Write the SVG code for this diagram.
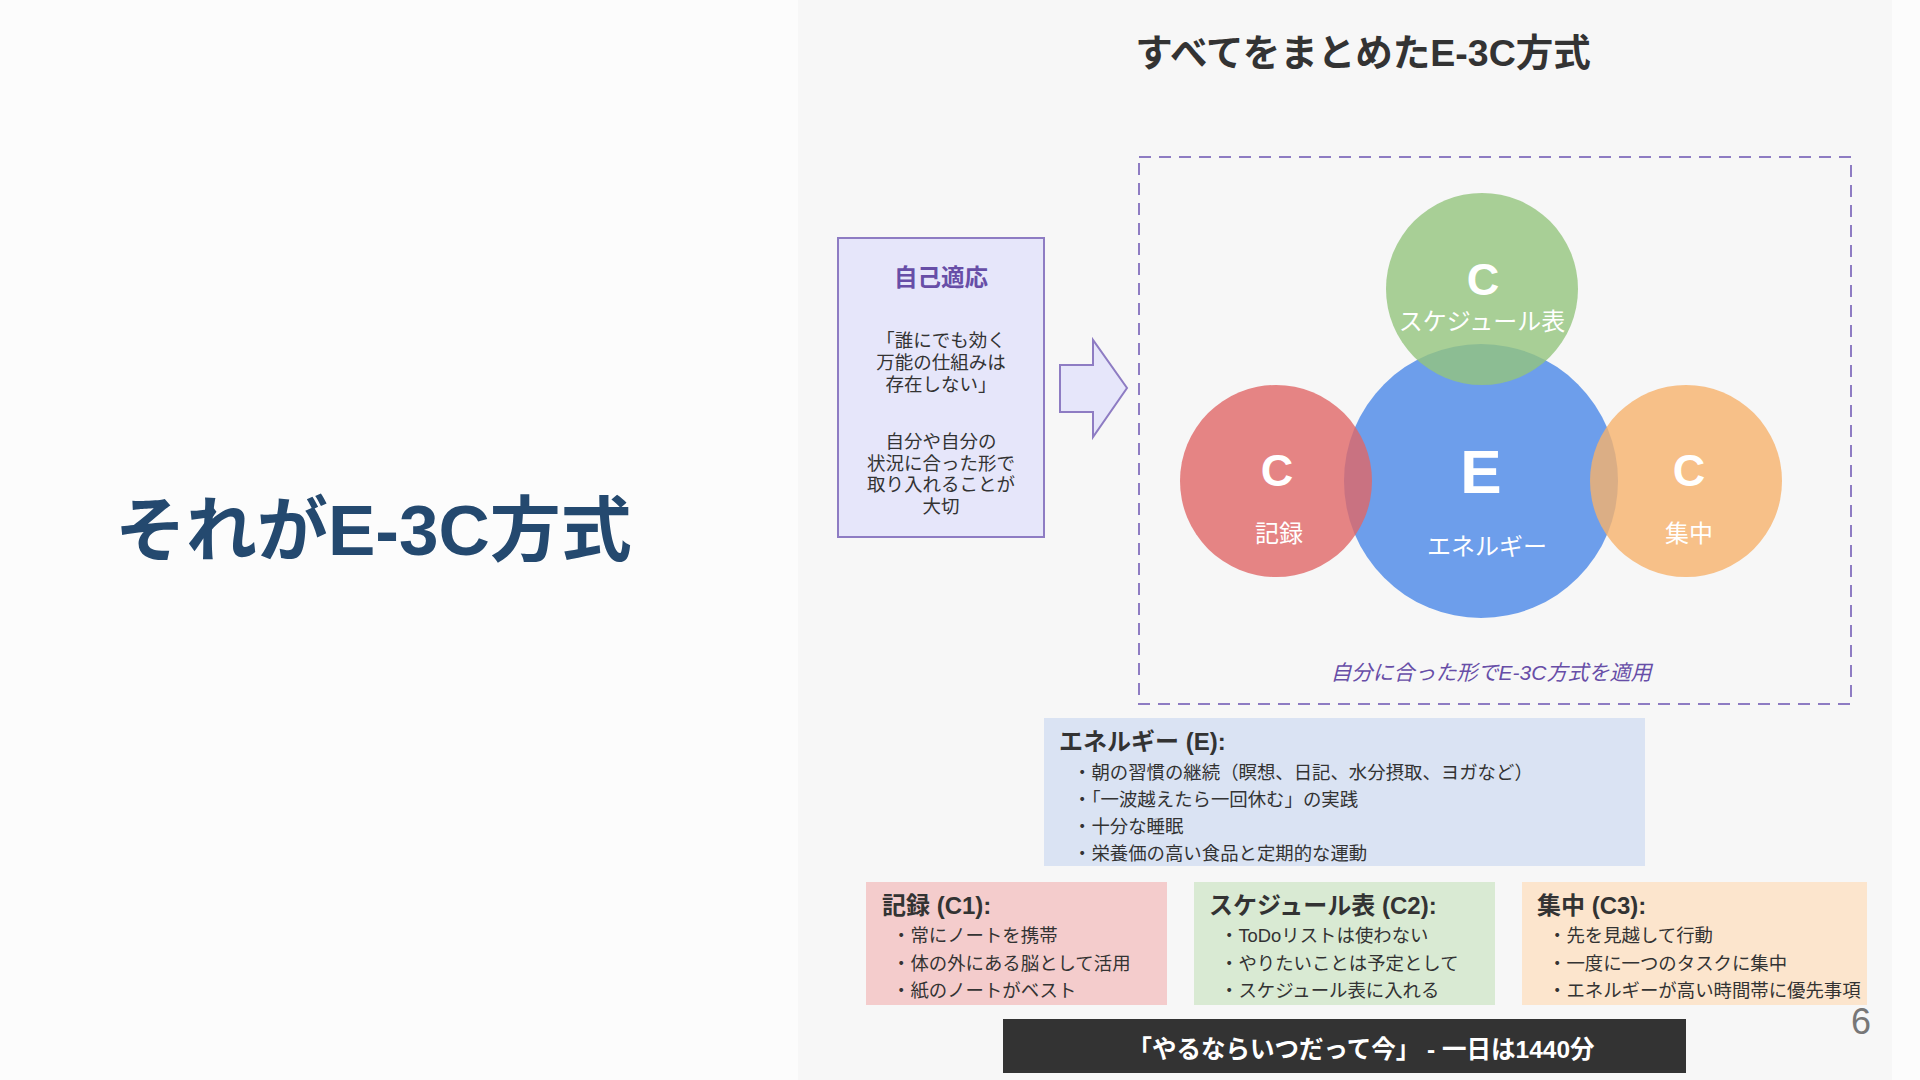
<svg xmlns="http://www.w3.org/2000/svg" width="1920" height="1080" viewBox="0 0 1920 1080">
<defs>
<style>
text{font-family:"Liberation Sans","Noto Sans CJK JP",sans-serif;}
.b{font-weight:bold;}
.dark{fill:#333333;}
.w{fill:#ffffff;}
.mid{text-anchor:middle;}
.cbig{font-size:45px;font-weight:bold;fill:#ffffff;text-anchor:middle;}
.clab{font-size:24px;fill:#ffffff;text-anchor:middle;}
.small{font-size:18.5px;fill:#333333;text-anchor:middle;}
.bt{font-size:24px;font-weight:bold;fill:#333333;}
.bl{font-size:18.4px;fill:#333333;}
</style>
</defs>
<rect x="0" y="0" width="1920" height="1080" fill="#fcfcfc"/>
<rect x="798" y="0" width="1094" height="1080" fill="#f7f7f7"/>

<g id="left-title">
<text x="115" y="555" font-size="71" class="b" fill="#24496f">それがE-3C方式</text>
</g>

<g id="title">
<text x="1363" y="66" font-size="37.5" class="b dark mid">すべてをまとめたE-3C方式</text>
</g>

<g id="self-adapt">
<rect x="838" y="238" width="206" height="299" fill="#e6e6fa" stroke="#8e7cc3" stroke-width="2"/>
<text x="941" y="286" font-size="23.5" class="b mid" fill="#674ea7">自己適応</text>
<text x="941" y="347" class="small">「誰にでも効く</text>
<text x="941" y="369" class="small">万能の仕組みは</text>
<text x="941" y="391" class="small">存在しない」</text>
<text x="941" y="448" class="small">自分や自分の</text>
<text x="941" y="469.5" class="small">状況に合った形で</text>
<text x="941" y="491" class="small">取り入れることが</text>
<text x="941" y="512.5" class="small">大切</text>
</g>

<g id="connectors">
<polygon points="1060,365 1093,365 1093,340 1127,388 1093,437 1093,412 1060,412" fill="#e6e6fa" stroke="#8e7cc3" stroke-width="2" stroke-linejoin="miter"/>
</g>

<g id="e3c-frame">
<rect x="1139" y="157" width="712" height="547" fill="none" stroke="#8e7cc3" stroke-width="2" stroke-dasharray="12 8"/>
<text x="1491" y="680" font-size="21" font-style="italic" class="mid" fill="#674ea7">自分に合った形でE-3C方式を適用</text>
</g>

<g id="circle-e">
<circle cx="1481" cy="481" r="137" fill="#6d9eeb"/>
</g>
<g id="circle-c1">
<circle cx="1276" cy="481" r="96" fill="#e06666" fill-opacity="0.8"/>
</g>
<g id="circle-c3">
<circle cx="1686" cy="481" r="96" fill="#f6b26b" fill-opacity="0.8"/>
</g>
<g id="circle-c2">
<circle cx="1482" cy="289" r="96" fill="#93c47d" fill-opacity="0.8"/>
</g>
<g id="circle-labels">
<text x="1483" y="295" class="cbig">C</text>
<text x="1482" y="330" class="clab">スケジュール表</text>
<text x="1277" y="486" class="cbig">C</text>
<text x="1279" y="542" class="clab">記録</text>
<text x="1689" y="486" class="cbig">C</text>
<text x="1689" y="542" class="clab">集中</text>
<text x="1481" y="493" font-size="62" class="b w mid">E</text>
<text x="1487" y="555" class="clab">エネルギー</text>
</g>

<g id="energy-box">
<rect x="1044" y="718" width="601" height="148" fill="#dae3f3"/>
<text x="1059" y="750" class="bt">エネルギー (E):</text>
<text x="1073" y="779" class="bl">・朝の習慣の継続（瞑想、日記、水分摂取、ヨガなど）</text>
<text x="1073" y="806" class="bl">・「一波越えたら一回休む」の実践</text>
<text x="1073" y="833" class="bl">・十分な睡眠</text>
<text x="1073" y="860" class="bl">・栄養価の高い食品と定期的な運動</text>
</g>

<g id="c1-box">
<rect x="866" y="882" width="301" height="123" fill="#f4cccc"/>
<text x="882" y="914" class="bt">記録 (C1):</text>
<text x="892" y="942" class="bl">・常にノートを携帯</text>
<text x="892" y="970" class="bl">・体の外にある脳として活用</text>
<text x="892" y="997" class="bl">・紙のノートがベスト</text>
</g>

<g id="c2-box">
<rect x="1194" y="882" width="301" height="123" fill="#d9ead3"/>
<text x="1209" y="914" class="bt">スケジュール表 (C2):</text>
<text x="1220" y="942" class="bl">・ToDoリストは使わない</text>
<text x="1220" y="970" class="bl">・やりたいことは予定として</text>
<text x="1220" y="997" class="bl">・スケジュール表に入れる</text>
</g>

<g id="c3-box">
<rect x="1522" y="882" width="345" height="123" fill="#fce5cd"/>
<text x="1537" y="914" class="bt">集中 (C3):</text>
<text x="1548" y="942" class="bl">・先を見越して行動</text>
<text x="1548" y="970" class="bl">・一度に一つのタスクに集中</text>
<text x="1548" y="997" class="bl">・エネルギーが高い時間帯に優先事項</text>
</g>

<g id="motto">
<rect x="1003" y="1019" width="683" height="54" fill="#333333"/>
<text x="1361" y="1058" font-size="24.5" class="b w mid">「やるならいつだって今」 - 一日は1440分</text>
</g>

<g id="page-number">
<text x="1851" y="1034" font-size="36" fill="#777777">6</text>
</g>
</svg>
